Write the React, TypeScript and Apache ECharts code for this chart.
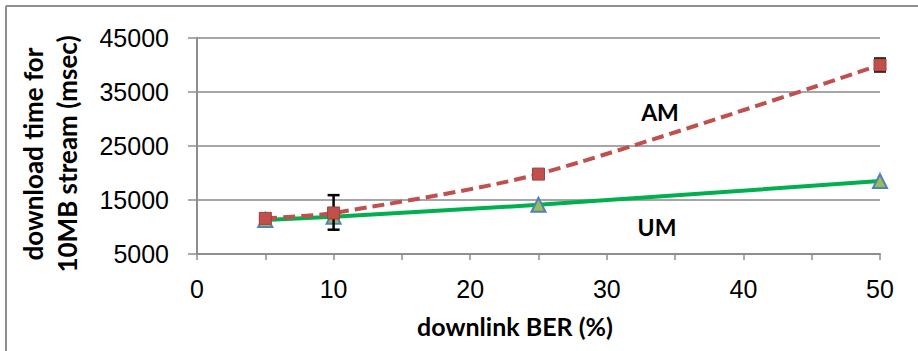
import React, { useEffect, useRef } from "react";
import * as echarts from "echarts";

const berX = [5, 10, 25, 50];
const amValues = [11600, 12600, 19800, 40000];
const amErrLow = [11300, 9500, 19400, 38800];
const amErrHigh = [11900, 15900, 20200, 41200];
const umValues = [11300, 11900, 14100, 18500];

const xTicks = [0, 10, 20, 30, 40, 50];
const yTicks = [5000, 15000, 25000, 35000, 45000];

const GRAY = "#8e8e8e";
const LABEL_FONT = "'Liberation Sans', Arial, sans-serif";
const BOLD_FONT = "Lato, 'Open Sans', sans-serif";

export default function App() {
  const ref = useRef<HTMLDivElement>(null);
  useEffect(() => {
    if (!ref.current) return;
    const chart = echarts.init(ref.current, undefined, { renderer: "svg" });
    const amData = berX.map((x, i) => [x, amValues[i]]);
    const umData = berX.map((x, i) => [x, umValues[i]]);
    const errData = berX.map((x, i) => [x, amErrLow[i], amErrHigh[i]]);
    chart.setOption({
      animation: false,
      backgroundColor: "#ffffff",
      grid: { left: 197, right: 38, top: 38, bottom: 97 },
      xAxis: {
        type: "value",
        min: xTicks[0],
        max: xTicks[xTicks.length - 1],
        interval: 10,
        axisLine: { lineStyle: { color: GRAY, width: 2 } },
        axisTick: { show: true, length: 6, lineStyle: { color: GRAY, width: 1.5 } },
        minorTick: { show: true, splitNumber: 2, length: 6, lineStyle: { color: GRAY, width: 1.5 } },
        splitLine: { show: false },
        axisLabel: {
          fontFamily: LABEL_FONT,
          fontSize: 25,
          color: "#000",
          margin: 22,
          formatter: (v: number) => String(v),
        },
      },
      yAxis: {
        type: "value",
        min: yTicks[0],
        max: yTicks[yTicks.length - 1],
        interval: 10000,
        axisLine: { show: true, lineStyle: { color: GRAY, width: 2 } },
        axisTick: { show: true, length: 9, lineStyle: { color: GRAY, width: 1.5 } },
        splitLine: { show: true, lineStyle: { color: "#a6a6a6", width: 2 } },
        axisLabel: {
          fontFamily: LABEL_FONT,
          fontSize: 25,
          color: "#000",
          margin: 28,
          formatter: (v: number) => String(v),
        },
      },
      graphic: [
        { type: "line", shape: { x1: 6, y1: 6, x2: 918, y2: 6 }, style: { stroke: GRAY, lineWidth: 2 } },
        { type: "line", shape: { x1: 6, y1: 6, x2: 6, y2: 351 }, style: { stroke: GRAY, lineWidth: 2 } },
        {
          type: "text",
          x: 50,
          y: 154,
          rotation: Math.PI / 2,
          style: {
            text: "download time for\n10MB stream (msec)",
            fontFamily: BOLD_FONT,
            fontWeight: "bold",
            fontSize: 26,
            lineHeight: 34,
            fill: "#000",
            align: "center",
            verticalAlign: "middle",
          },
        },
        {
          type: "text",
          x: 515,
          y: 326,
          style: {
            text: "downlink BER (%)",
            fontFamily: BOLD_FONT,
            fontWeight: "bold",
            fontSize: 25,
            fill: "#000",
            align: "center",
            verticalAlign: "middle",
          },
        },
        {
          type: "text",
          x: 660,
          y: 112,
          style: { text: "AM", fontFamily: BOLD_FONT, fontWeight: "bold", fontSize: 23, fill: "#000", align: "center", verticalAlign: "middle" },
        },
        {
          type: "text",
          x: 657,
          y: 227,
          style: { text: "UM", fontFamily: BOLD_FONT, fontWeight: "bold", fontSize: 23, fill: "#000", align: "center", verticalAlign: "middle" },
        },
      ],
      series: [
        {
          name: "UM",
          type: "line",
          data: umData,
          z: 3,
          lineStyle: { color: "#00b050", width: 4 },
          symbol: "triangle",
          symbolSize: 14,
          itemStyle: { color: "#9bbb59", borderColor: "#4f81bd", borderWidth: 2 },
        },
        {
          name: "AM err",
          type: "custom",
          z: 4,
          data: errData,
          renderItem: (params: any, api: any) => {
            const x = api.value(0);
            const lo = api.coord([x, api.value(1)]);
            const hi = api.coord([x, api.value(2)]);
            const half = 6;
            const st = { stroke: "#000", lineWidth: 2.5 };
            return {
              type: "group",
              children: [
                { type: "line", shape: { x1: lo[0], y1: lo[1], x2: hi[0], y2: hi[1] }, style: st },
                { type: "line", shape: { x1: lo[0] - half, y1: lo[1], x2: lo[0] + half, y2: lo[1] }, style: st },
                { type: "line", shape: { x1: hi[0] - half, y1: hi[1], x2: hi[0] + half, y2: hi[1] }, style: st },
              ],
            };
          },
        },
        {
          name: "AM",
          type: "line",
          data: amData,
          z: 5,
          smooth: 0.25,
          lineStyle: { color: "#c0504d", width: 4, type: [12, 6] },
          symbol: "rect",
          symbolSize: 12,
          itemStyle: { color: "#c0504d", borderColor: "#a0403d", borderWidth: 1 },
        },
      ],
    });
    return () => chart.dispose();
  }, []);
  return <div ref={ref} style={{ width: 918, height: 351, position: "absolute", left: 0, top: 0 }} />;
}
